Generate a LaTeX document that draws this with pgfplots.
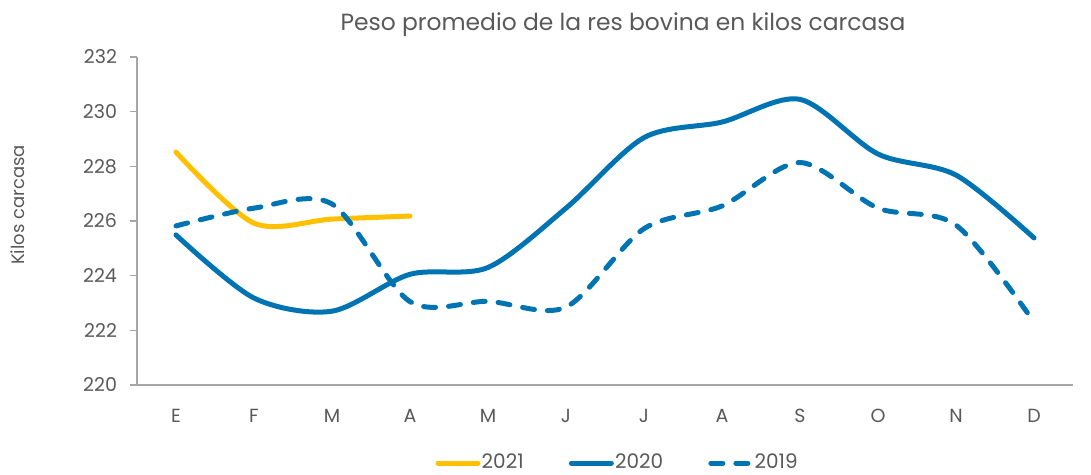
\documentclass[border=0pt]{standalone}
\usepackage{pgfplots}
\pgfplotsset{compat=1.18}
\usepackage{fontspec}
\setmainfont{Poppins}
\definecolor{txt}{RGB}{89,89,89}
\definecolor{axg}{RGB}{166,166,166}
\definecolor{yel}{RGB}{255,192,0}
\definecolor{blu}{RGB}{0,115,178}
\begin{document}
\begin{tikzpicture}
\useasboundingbox (0,0) rectangle (545.5pt,237.5pt);
\node[text=txt,font=\fontsize{11.7}{13}\selectfont] at (311.5pt,225pt) {Peso promedio de la res bovina en kilos carcasa};
\node[text=txt,font=\fontsize{9}{11}\selectfont,rotate=90] at (9pt,135pt) {Kilos carcasa};
\begin{axis}[
  at={(68.5pt,45pt)}, anchor=south west,
  scale only axis, width=468pt, height=164pt,
  xmin=-0.5, xmax=11.5, ymin=220, ymax=232,
  ytick={220,222,...,232},
  xtick={0,...,11},
  xticklabels={E,F,M,A,M,J,J,A,S,O,N,D},
  extra x ticks={-0.5,0.5,...,11.5},
  extra x tick labels={},
  extra x tick style={major tick length=4pt, tick style={axg, line width=0.6pt}},
  x tick style={draw=none},
  axis x line*=bottom, axis y line*=left,
  axis line style={axg, line width=0.6pt, -},
  tick align=outside,
  y tick style={axg, line width=0.6pt},
  major tick length=3.5pt,
  ticklabel style={text=txt, font=\fontsize{9.5}{11}\selectfont},
  yticklabel style={xshift=-3pt},
  xticklabel style={yshift=-5pt},
  /pgf/number format/assume math mode=true,
  legend columns=3,
  legend style={at={(0.513,-0.238)}, anchor=center, draw=none, fill=none,
    font=\fontsize{10}{11}\selectfont, text=txt,
    nodes={inner xsep=0.6pt},
    /tikz/every even column/.append style={column sep=22pt}},
  legend image code/.code={\draw[#1, line cap=round] (0pt,0pt) -- (20pt,0pt);},
  clip=false,
]
\addplot[yel, line width=2.5pt, smooth, tension=0.5, line cap=round] coordinates {
(0,228.52) (1,225.92) (2,226.07) (3,226.18)};
\addlegendentry{2021}
\addplot[blu, line width=2.5pt, smooth, tension=0.5, line cap=round] coordinates {
(0,225.49) (1,223.18) (2,222.70) (3,224.05) (4,224.30) (5,226.47) (6,229.05) (7,229.62) (8,230.45) (9,228.45) (10,227.68) (11,225.38)};
\addlegendentry{2020}
\addplot[blu, line width=2.5pt, smooth, tension=0.5, line cap=round, dash pattern=on 6pt off 6.5pt] coordinates {
(0,225.82) (1,226.47) (2,226.62) (3,223.05) (4,223.06) (5,222.85) (6,225.72) (7,226.55) (8,228.14) (9,226.47) (10,225.85) (11,222.30)};
\addlegendentry{2019}
\end{axis}
\end{tikzpicture}
\end{document}
